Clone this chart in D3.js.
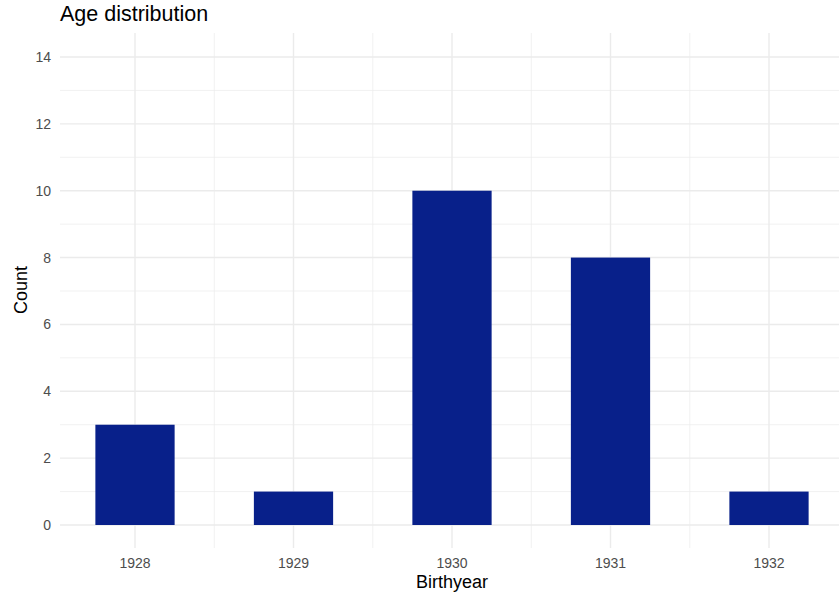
<!DOCTYPE html>
<html><head><meta charset="utf-8">
<script src="https://cdn.jsdelivr.net/npm/d3@7"></script>
<style>body{margin:0;background:#fff}svg{display:block}text{font-family:"Liberation Sans",Arial,sans-serif}</style>
</head><body>
<script>
const categories = ["1928","1929","1930","1931","1932"];
const counts = [3,1,10,8,1];
const yTicks = [0,2,4,6,8,10,12,14];
const yMinor = [1,3,5,7,9,11,13];
const title = "Age distribution";
const xTitle = "Birthyear";
const yTitle = "Count";

const W = 839, H = 592;
const svg = d3.select("body").append("svg").attr("width", W).attr("height", H);
const panel = {left: 60, right: 839, top: 33, bottom: 548};

const y = d3.scaleLinear().domain([0,14]).range([525,57]);
const x = d3.scaleLinear().domain([0,4]).range([135,769]);
const step = x(1)-x(0);
const grid = "#ebebeb";

const g = svg.append("g");
g.selectAll(".ymin").data(yMinor).enter().append("line")
 .attr("x1",panel.left).attr("x2",panel.right).attr("y1",d=>y(d)).attr("y2",d=>y(d))
 .attr("stroke",grid).attr("stroke-width",0.7);
g.selectAll(".xmin").data(d3.range(categories.length-1)).enter().append("line")
 .attr("x1",d=>x(d+0.5)).attr("x2",d=>x(d+0.5)).attr("y1",panel.top).attr("y2",panel.bottom)
 .attr("stroke",grid).attr("stroke-width",0.7);
g.selectAll(".ymaj").data(yTicks).enter().append("line")
 .attr("x1",panel.left).attr("x2",panel.right).attr("y1",d=>y(d)).attr("y2",d=>y(d))
 .attr("stroke",grid).attr("stroke-width",1.4);
g.selectAll(".xmaj").data(categories).enter().append("line")
 .attr("x1",(d,i)=>x(i)).attr("x2",(d,i)=>x(i)).attr("y1",panel.top).attr("y2",panel.bottom)
 .attr("stroke",grid).attr("stroke-width",1.4);

svg.selectAll(".bar").data(counts).enter().append("rect")
 .attr("x",(d,i)=>x(i)-step*0.25).attr("width",step*0.5)
 .attr("y",d=>y(d)).attr("height",d=>y(0)-y(d))
 .attr("fill","#08208a");

svg.selectAll(".yl").data(yTicks).enter().append("text")
 .attr("x",51).attr("y",d=>y(d)).attr("dy","0.36em").attr("text-anchor","end")
 .attr("font-size",14).attr("fill","#4d4d4d").text(d=>d);
svg.selectAll(".xl").data(categories).enter().append("text")
 .attr("x",(d,i)=>x(i)).attr("y",568).attr("text-anchor","middle")
 .attr("font-size",14).attr("fill","#4d4d4d").text(d=>d);

svg.append("text").attr("x",60).attr("y",21).attr("font-size",21.5).attr("fill","#000").text(title);
svg.append("text").attr("x",452).attr("y",588).attr("text-anchor","middle")
 .attr("font-size",18).attr("fill","#000").text(xTitle);
svg.append("text").attr("transform",`translate(27,290) rotate(-90)`)
 .attr("text-anchor","middle").attr("font-size",18).attr("fill","#000").text(yTitle);
</script>
</body></html>
